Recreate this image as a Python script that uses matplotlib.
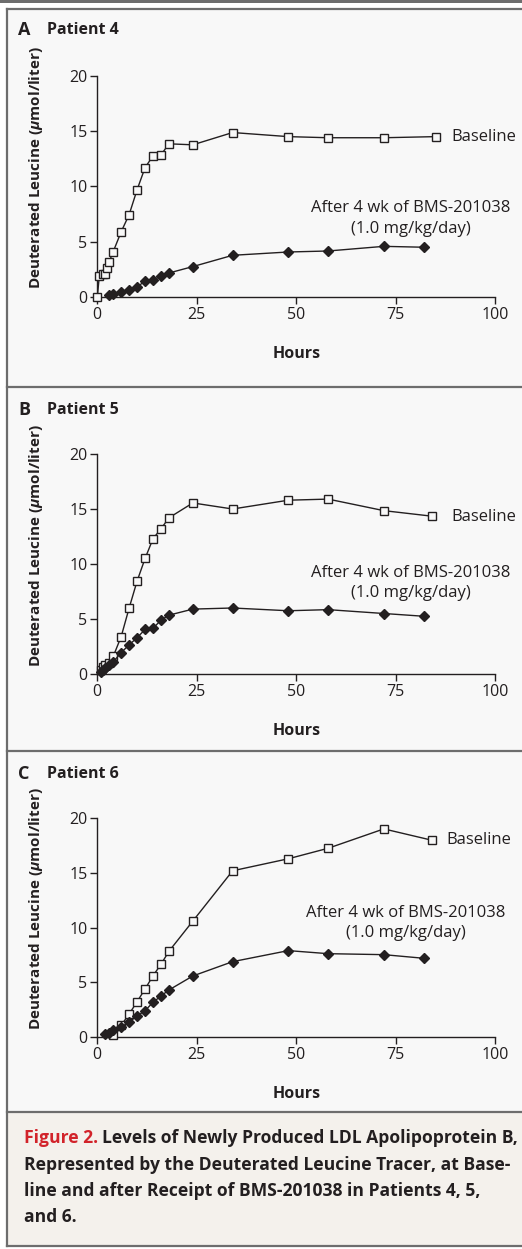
import matplotlib
matplotlib.use("Agg")
import matplotlib.pyplot as plt
from matplotlib.patches import Rectangle
from matplotlib.lines import Line2D

W, H = 522, 1249

# Patient 4
a_base_t = [0, 0.5, 1.5, 2, 2.5, 3, 4, 6, 8, 10, 12, 14, 16, 18, 24, 34, 48, 58, 72, 85]
a_base_y = [0, 1.87, 2.05, 2.1, 2.6, 3.2, 4.1, 5.9, 7.45, 9.7, 11.7, 12.76, 12.85, 13.85, 13.76, 14.87, 14.5, 14.4, 14.4, 14.5]
a_drug_t = [3, 4, 6, 8, 10, 12, 14, 16, 18, 24, 34, 48, 58, 72, 82]
a_drug_y = [0.15, 0.3, 0.45, 0.63, 0.9, 1.45, 1.5, 1.93, 2.17, 2.75, 3.77, 4.07, 4.16, 4.58, 4.5]

# Patient 5
b_base_t = [1, 1.5, 2, 3, 4, 6, 8, 10, 12, 14, 16, 18, 24, 34, 48, 58, 72, 84]
b_base_y = [0.4, 0.6, 0.8, 1.0, 1.6, 3.4, 6.0, 8.45, 10.5, 12.3, 13.2, 14.2, 15.55, 15.0, 15.8, 15.9, 14.85, 14.35]
b_drug_t = [1, 1.5, 2, 3, 4, 6, 8, 10, 12, 14, 16, 18, 24, 34, 48, 58, 72, 82]
b_drug_y = [0.15, 0.35, 0.55, 0.8, 1.1, 1.95, 2.65, 3.3, 4.05, 4.15, 4.9, 5.35, 5.9, 6.0, 5.75, 5.85, 5.5, 5.25]

# Patient 6
c_base_t = [4, 6, 8, 10, 12, 14, 16, 18, 24, 34, 48, 58, 72, 84]
c_base_y = [0.15, 1.07, 2.1, 3.23, 4.39, 5.6, 6.65, 7.84, 10.6, 15.2, 16.3, 17.26, 19.03, 18.0]
c_drug_t = [2, 3, 4, 6, 8, 10, 12, 14, 16, 18, 24, 34, 48, 58, 72, 82]
c_drug_y = [0.24, 0.37, 0.64, 0.91, 1.37, 1.92, 2.41, 3.17, 3.75, 4.3, 5.58, 6.89, 7.9, 7.62, 7.53, 7.2]

panels = [
    ("A", "Patient 4", a_base_t, a_base_y, a_drug_t, a_drug_y),
    ("B", "Patient 5", b_base_t, b_base_y, b_drug_t, b_drug_y),
    ("C", "Patient 6", c_base_t, c_base_y, c_drug_t, c_drug_y),
]

plt.rcParams['font.family'] = ['Open Sans', 'DejaVu Sans']
plt.rcParams['mathtext.fontset'] = 'custom'
plt.rcParams['mathtext.it'] = 'Open Sans:italic:bold'
plt.rcParams['mathtext.rm'] = 'Open Sans:bold'
ink = "#231f20"
panel_bg = "#f8f8f8"
cap_bg = "#f4f1ec"
frame = "#6d6d6d"

fig = plt.figure(figsize=(W / 100, H / 100), dpi=100)
fig.patch.set_facecolor("white")


def fx(px):
    return px / W


def fy(py):
    return 1 - py / H


# frame and panel backgrounds (behind the axes)
fig.add_artist(Rectangle((0, fy(2.5)), 1, 2.5 / H, transform=fig.transFigure,
                         facecolor=frame, edgecolor="none", zorder=-5))
fig.add_artist(Rectangle((fx(7), fy(1112)), 1, (1112 - 8.5) / H, transform=fig.transFigure,
                         facecolor=panel_bg, edgecolor="none", zorder=-5))
fig.add_artist(Rectangle((fx(7), fy(1246)), 1, (1246 - 1112) / H, transform=fig.transFigure,
                         facecolor=cap_bg, edgecolor="none", zorder=-5))
for yy in [8.5, 387.5, 751, 1112, 1246]:
    fig.add_artist(Line2D([fx(7), 1], [fy(yy), fy(yy)], transform=fig.transFigure,
                          color=frame, lw=1.6, zorder=-4))
fig.add_artist(Line2D([fx(7), fx(7)], [fy(8.5), fy(1246)], transform=fig.transFigure,
                      color=frame, lw=1.6, zorder=-4))

# axes: pixel positions of y=0 and y=20 for each panel
ax_y = [(297, 75.8), (674, 454), (1037, 818.3)]
head_y = [30, 410, 774]
base_lbl = [(88.9, 14.5), (88.9, 14.3), (87.8, 18.0)]
drug_lbl = [(78.7, 7.1), (78.7, 8.3), (77.6, 10.45)]

for i, (letter, title, bt, by, dt, dy) in enumerate(panels):
    y0, y20 = ax_y[i]
    ax = fig.add_axes([fx(97.3), fy(y0), 398 / W, (y0 - y20) / H])
    ax.set_facecolor("none")
    ax.plot(bt, by, color=ink, lw=1.0, marker="s", ms=5.5, mfc=panel_bg,
            mec=ink, mew=1.0, clip_on=False, zorder=3)
    ax.plot(dt, dy, color=ink, lw=1.0, marker="D", ms=5, mfc=ink,
            mec=ink, clip_on=False, zorder=4)
    ax.set_xlim(0, 100)
    ax.set_ylim(0, 20)
    ax.set_xticks([0, 25, 50, 75, 100])
    ax.set_yticks([0, 5, 10, 15, 20])
    for s in ["top", "right"]:
        ax.spines[s].set_visible(False)
    for s in ["left", "bottom"]:
        ax.spines[s].set_color(ink)
        ax.spines[s].set_linewidth(1.0)
    ax.tick_params(direction="out", length=5, width=1.0, color=ink,
                   labelsize=11.5, labelcolor=ink, pad=2)
    ax.set_xlabel("Hours", fontsize=11.5, fontweight="bold", color=ink, labelpad=17)
    ax.set_ylabel("Deuterated Leucine ($\\mu$mol/liter)", fontsize=11,
                  fontweight="bold", color=ink)
    ax.yaxis.set_label_coords(-0.131, 0.585)
    ax.text(base_lbl[i][0], base_lbl[i][1], "Baseline", fontsize=12, color=ink,
            ha="left", va="center")
    ax.text(drug_lbl[i][0], drug_lbl[i][1], "After 4 wk of BMS-201038\n(1.0 mg/kg/day)",
            fontsize=12, color=ink, ha="center", va="center", linespacing=1.35)
    fig.text(fx(18), fy(head_y[i]), letter, fontsize=13, fontweight="bold",
             color=ink, ha="left", va="center")
    fig.text(fx(47), fy(head_y[i]), title, fontsize=11.5, fontweight="bold",
             color=ink, ha="left", va="center")

# caption
cap_lines = [
    "Levels of Newly Produced LDL Apolipoprotein B,",
    "Represented by the Deuterated Leucine Tracer, at Base-",
    "line and after Receipt of BMS-201038 in Patients 4, 5,",
    "and 6.",
]
cap_y = [1138, 1165, 1191, 1217]
cap_fs = 12.6
t = fig.text(fx(24), fy(cap_y[0]), "Figure 2.", fontsize=cap_fs, fontweight="bold",
             color="#d2232a", ha="left", va="center")
fig.canvas.draw()
bb = t.get_window_extent()
fig.text((bb.x1 + 4) / W, fy(cap_y[0]), cap_lines[0], fontsize=cap_fs,
         fontweight="bold", color=ink, ha="left", va="center")
for line, yy in zip(cap_lines[1:], cap_y[1:]):
    fig.text(fx(24), fy(yy), line, fontsize=cap_fs, fontweight="bold",
             color=ink, ha="left", va="center")

fig.savefig("out.png", dpi=100, facecolor=fig.get_facecolor())
